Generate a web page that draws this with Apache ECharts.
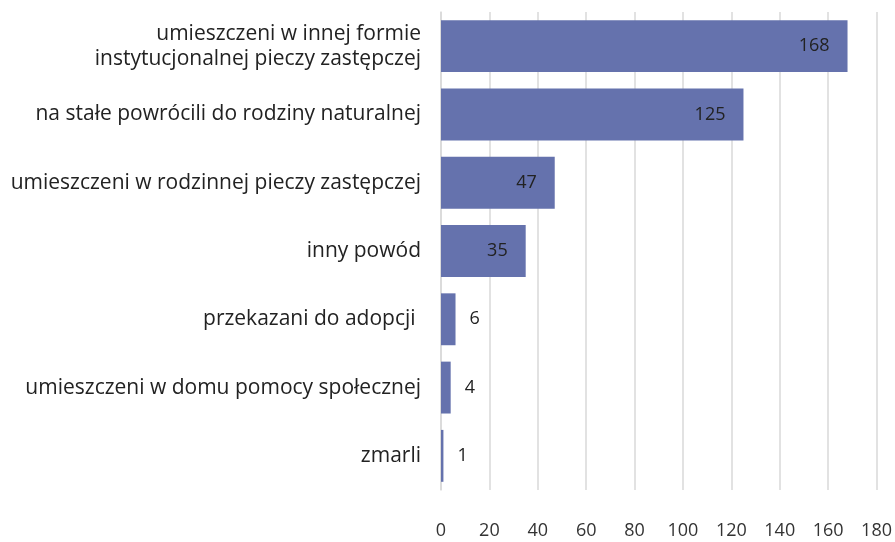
<!DOCTYPE html>
<html><head><meta charset="utf-8">
<script src="https://cdn.jsdelivr.net/npm/echarts@6/dist/echarts.min.js"></script>
<style>html,body{margin:0;padding:0;background:#fff}#c{width:895px;height:542px}</style>
</head><body><div id="c"></div>
<script>
const categories = [
  "umieszczeni w innej formie\ninstytucjonalnej pieczy zastępczej",
  "na stałe powrócili do rodziny naturalnej",
  "umieszczeni w rodzinnej pieczy zastępczej",
  "inny powód",
  "przekazani do adopcji ",
  "umieszczeni w domu pomocy społecznej",
  "zmarli"
];
const values = [168, 125, 47, 35, 6, 4, 1];
const insideThreshold = 20;

const chart = echarts.init(document.getElementById('c'));
chart.setOption({
  animation: false,
  grid: {left: 441, right: 17, top: 12, bottom: 52},
  xAxis: {
    type: 'value', min: 0, max: 180, interval: 20,
    axisLine: {show: false}, axisTick: {show: false},
    splitLine: {lineStyle: {color: '#d9d9d9', width: 1.5}},
    axisLabel: {color: '#333', fontSize: 18, fontFamily: 'Open Sans', margin: 32}
  },
  yAxis: {
    type: 'category', inverse: true, data: categories,
    axisLine: {show: true, lineStyle: {color: '#d9d9d9', width: 1.5}},
    axisTick: {show: false},
    axisLabel: {color: '#222', fontSize: 21, fontFamily: 'Open Sans', margin: 20, lineHeight: 25, align: 'right'}
  },
  series: [{
    type: 'bar',
    data: values.map(v => ({
      value: v,
      label: v >= insideThreshold
        ? {position: 'insideRight', distance: 18}
        : {position: 'right', distance: 14}
    })),
    barCategoryGap: '24%',
    itemStyle: {color: '#6572ad'},
    label: {show: true, color: '#222', fontSize: 18, fontWeight: 500, fontFamily: 'Open Sans'}
  }]
});
</script></body></html>
